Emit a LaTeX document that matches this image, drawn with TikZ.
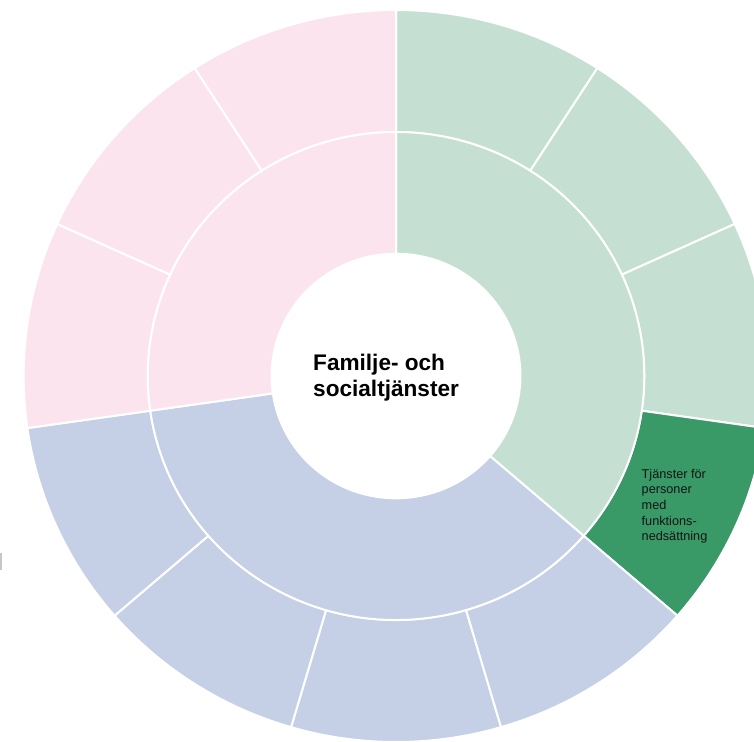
\documentclass[tikz,border=0pt]{standalone}
\usepackage{fontspec}
\newfontfamily\lab{Liberation Sans}
\definecolor{pinkc}{RGB}{252,228,239}
\definecolor{lgreen}{RGB}{197,224,210}
\definecolor{dgreen}{RGB}{57,153,103}
\definecolor{lblue}{RGB}{197,207,230}
\definecolor{txt}{RGB}{20,20,20}
\tikzset{
  wedge/.style={fill=#1, draw=white, line width=2pt, line join=miter},
  bigtext/.style={font=\lab\bfseries\fontsize{22.6}{26}\selectfont, inner sep=0pt, anchor=base west, text=black},
  smalltext/.style={font=\lab\fontsize{12.7}{15.7}\selectfont, inner sep=0pt, anchor=base west, text=txt}
}
\begin{document}
\begin{tikzpicture}[x=1pt,y=1pt]
\useasboundingbox (0,0) rectangle (754,-741);
\clip (0,0) rectangle (754,-741);
\def\st{32.7272727}
\begin{scope}[shift={(396,-376)}, xscale=1.0175]
  % outer ring
  \foreach \k/\col in {0/lgreen,1/lgreen,2/lgreen,3/dgreen,4/lblue,5/lblue,6/lblue,7/lblue,8/pinkc,9/pinkc,10/pinkc}{
    \pgfmathsetmacro\aa{90-\k*\st}
    \pgfmathsetmacro\ab{90-(\k+1)*\st}
    \path[wedge=\col] (\aa:244pt) arc[start angle=\aa, end angle=\ab, radius=244pt]
      -- (\ab:366pt) arc[start angle=\ab, end angle=\aa, radius=366pt] -- cycle;
  }
  % middle ring
  \foreach \a/\b/\col in {90/-40.909091/lgreen, -40.909091/-171.818182/lblue, -171.818182/-270/pinkc}{
    \path[wedge=\col] (\a:122.3pt) arc[start angle=\a, end angle=\b, radius=122.3pt]
      -- (\b:244pt) arc[start angle=\b, end angle=\a, radius=244pt] -- cycle;
  }
\end{scope}
% centre label
\node[bigtext] (t1) at (313,-370.7) {Familje- och};
\node[bigtext] (t2) at (313,-396.7) {socialtjänster};
% label in dark green segment
\node[smalltext] (s1) at (641.5,-478) {Tjänster för};
\node[smalltext] (s2) at (641.5,-493.7) {personer};
\node[smalltext] (s3) at (641.5,-509.4) {med};
\node[smalltext] (s4) at (641.5,-525.1) {funktions-};
\node[smalltext] (s5) at (641.5,-540.8) {nedsättning};
% small cut-off mark at left edge
\fill[gray!45] (0,-553) rectangle (1.5,-570);
\end{tikzpicture}
\end{document}
